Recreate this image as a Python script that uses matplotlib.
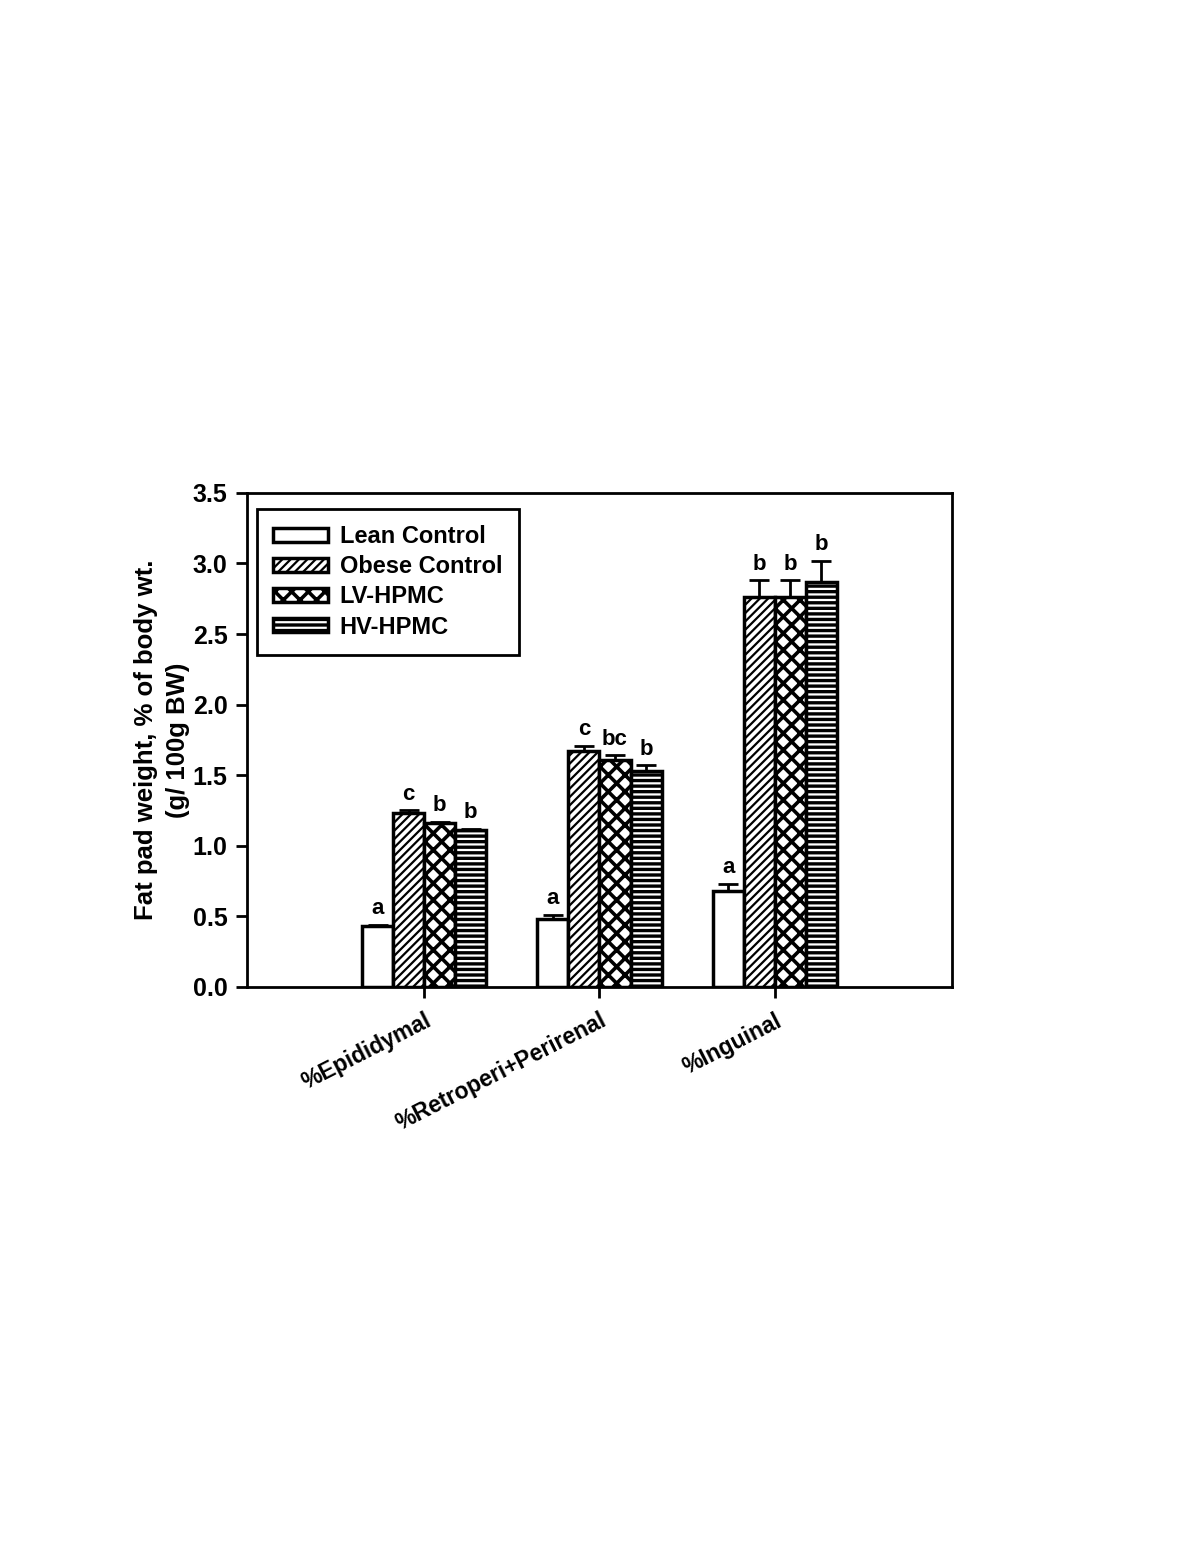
import matplotlib
matplotlib.use("Agg")
import matplotlib.pyplot as plt
import numpy as np

plt.rcParams['font.family'] = ['Liberation Sans', 'DejaVu Sans']
plt.rcParams['font.weight'] = 'bold'
plt.rcParams['hatch.linewidth'] = 2.5

categories = ["%Epididymal", "%Retroperi+Perirenal", "%Inguinal"]
groups = ["Lean Control", "Obese Control", "LV-HPMC", "HV-HPMC"]
lean = [0.43, 0.48, 0.68]
obese = [1.23, 1.67, 2.76]
lv = [1.16, 1.61, 2.76]
hv = [1.11, 1.53, 2.87]
lean_err = [0.01, 0.03, 0.05]
obese_err = [0.02, 0.04, 0.12]
lv_err = [0.01, 0.03, 0.12]
hv_err = [0.01, 0.04, 0.15]
lean_lab = ["a", "a", "a"]
obese_lab = ["c", "c", "b"]
lv_lab = ["b", "bc", "b"]
hv_lab = ["b", "b", "b"]

values = [lean, obese, lv, hv]
errors = [lean_err, obese_err, lv_err, hv_err]
labels = [lean_lab, obese_lab, lv_lab, hv_lab]
hatches = ["", "////", "xx", "---"]
hatch_lws = [1.0, 1.6, 2.6, 2.4]

fig = plt.figure(figsize=(12, 15.53), dpi=100)
ax = fig.add_axes([0.2058, 0.3645, 0.5875, 0.3181])

x = np.arange(1, len(categories) + 1)
w = 0.177
offsets = [-1.5 * w, -0.5 * w, 0.5 * w, 1.5 * w]
for i in range(4):
    xs = x + offsets[i]
    with plt.rc_context({'hatch.linewidth': hatch_lws[i]}):
        bars = ax.bar(xs, values[i], width=w, color='white', edgecolor='black',
                      linewidth=2.5, hatch=hatches[i], label=groups[i], zorder=2)
    for p in bars.patches:
        if hasattr(p, 'set_hatch_linewidth'):
            p.set_hatch_linewidth(hatch_lws[i])
    ax.errorbar(xs, values[i], yerr=[np.zeros(3), errors[i]], fmt='none',
                ecolor='black', elinewidth=2, capsize=7, capthick=2, zorder=3)
    for xx, v, e, t in zip(xs, values[i], errors[i], labels[i]):
        ax.annotate(t, (xx, v + e), xytext=(0, 4), textcoords='offset points',
                    ha='center', va='bottom', fontsize=16, fontweight='bold')

ax.set_xlim(-0.01, 4.01)
ax.set_ylim(0, 3.5)
ticks = np.arange(0, 3.51, 0.5)
ax.set_yticks(ticks)
ax.set_yticklabels([f"{v:.1f}" for v in ticks], fontsize=18, fontweight='bold')
ax.set_xticks(x)
ax.set_xticklabels(categories, rotation=27, ha='right', rotation_mode='anchor',
                   fontsize=16.5, fontweight='bold')
ax.tick_params(axis='both', direction='out', length=8, width=2)
ax.tick_params(axis='x', pad=8)
ax.tick_params(axis='y', pad=6)
for s in ax.spines.values():
    s.set_linewidth(2)
ax.set_ylabel("Fat pad weight, % of body wt.\n(g/ 100g BW)", fontsize=18.5,
              fontweight='bold', labelpad=2, linespacing=1.4)

leg = ax.legend(loc='upper left', fontsize=17, frameon=True, fancybox=False,
                edgecolor='black', handlelength=2.3, handleheight=0.55,
                handletextpad=0.5, borderpad=0.7, labelspacing=0.3,
                borderaxespad=0, bbox_to_anchor=(0.0142, 0.968))
leg.get_frame().set_linewidth(2)
leg.get_frame().set_alpha(1)
for p, lw in zip(leg.get_patches(), hatch_lws):
    if hasattr(p, 'set_hatch_linewidth'):
        p.set_hatch_linewidth(lw)

fig.savefig("out.png", dpi=100)
